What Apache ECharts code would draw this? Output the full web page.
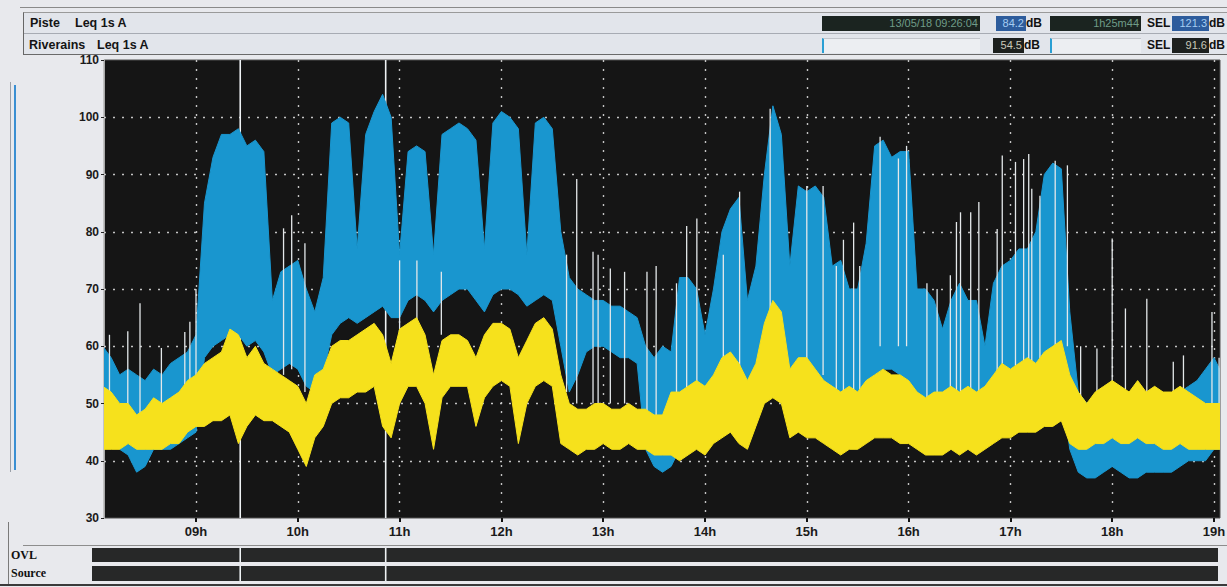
<!DOCTYPE html>
<html><head><meta charset="utf-8">
<script src="https://cdn.jsdelivr.net/npm/echarts/dist/echarts.min.js"></script>
<style>
html,body{margin:0;padding:0;width:1227px;height:587px;overflow:hidden;background:#e8e9ed;font-family:'Liberation Sans',Arial,sans-serif;}
#chart{position:absolute;left:0;top:0;width:1227px;height:587px;}
.abs{position:absolute;}
.lab{position:absolute;font-weight:bold;font-size:12.5px;color:#141414;line-height:15px;white-space:nowrap;}
.box{position:absolute;height:15px;line-height:15px;font-size:11px;text-align:right;padding-right:2px;box-sizing:border-box;white-space:nowrap;overflow:hidden;}
.dark{background:#1b2420;color:#6f9c88;}
.blue{background:#2d5c9c;color:#a6cdf2;}
.dark2{background:#1d201e;color:#c9c9b9;}
.light{background:#eceef2;border-left:2px solid #2a9fd4;border-top:1px solid #c3c6cc;}
.unit{position:absolute;font-weight:bold;font-size:12px;color:#111;line-height:15px;}
.foot{position:absolute;font-family:'Liberation Serif','Times New Roman',serif;font-weight:bold;font-size:12px;color:#111;line-height:15px;}
</style></head><body>
<div id="chart"></div>

<div class="abs" style="left:20px;top:7px;width:1207px;height:1px;background:#8a8a8a"></div>
<div class="abs" style="left:23px;top:12px;width:1204px;height:42px;background:#e2e5eb;border-left:1px solid #666;border-top:1px solid #9a9a9a"></div>
<div class="abs" style="left:24px;top:33px;width:1203px;height:1px;background:#a7abb3"></div>
<div class="abs" style="left:24px;top:54px;width:1203px;height:1px;background:#6a6a6a"></div>
<div class="lab" style="left:30px;top:16px">Piste</div>
<div class="lab" style="left:75px;top:16px">Leq 1s A</div>
<div class="lab" style="left:29px;top:38px">Riverains</div>
<div class="lab" style="left:97px;top:38px">Leq 1s A</div>

<div class="box dark" style="left:822px;top:16px;width:158px;">13/05/18 09:26:04</div>
<div class="box blue" style="left:996px;top:16px;width:30px;">84.2</div>
<div class="unit" style="left:1026px;top:16px">dB</div>
<div class="box dark" style="left:1050px;top:16px;width:91px;">1h25m44</div>
<div class="unit" style="left:1147px;top:16px">SEL</div>
<div class="box blue" style="left:1172px;top:16px;width:37px;">121.3</div>
<div class="unit" style="left:1209px;top:16px">dB</div>

<div class="box light" style="left:822px;top:38px;width:158px;"></div>
<div class="box dark2" style="left:993px;top:38px;width:31px;">54.5</div>
<div class="unit" style="left:1024px;top:38px">dB</div>
<div class="box light" style="left:1050px;top:38px;width:91px;"></div>
<div class="unit" style="left:1147px;top:38px">SEL</div>
<div class="box dark2" style="left:1172px;top:38px;width:37px;">91.6</div>
<div class="unit" style="left:1209px;top:38px">dB</div>

<div class="abs" style="left:10px;top:82px;width:1px;height:390px;background:#9aa0a8"></div>
<div class="abs" style="left:14px;top:85px;width:2px;height:385px;background:#3a8fd2"></div>

<div class="abs" style="left:23px;top:545px;width:1204px;height:1px;background:#8d8d8d"></div>
<div class="abs" style="left:8px;top:522px;width:1px;height:62px;background:#7a7a7a"></div>
<div class="foot" style="left:11px;top:548px">OVL</div>
<div class="foot" style="left:11px;top:566px">Source</div>
<div class="abs" style="left:0;top:584px;width:1227px;height:2px;background:#3a3a3a"></div>

<script>
// ---- data ----
const binStartHour = 8 + 5 / 60;   // first 5-minute bin at 08:05
const binMinutes = 5;

// Piste (blue) envelope, dB, one value per 5-minute bin 08:05 .. 19:05
const blueHigh = [
  60,58,55,56,55,54,56,55,57,58,59,62,
  85,93,97,97,98,95,96,94,68,73,74,75,
  70,66,72,99,100,99,77,97,101,104,100,76,
  94,95,94,76,97,98,99,98,96,77,99,101,
  100,98,76,99,100,98,80,72,70,69,68,68,
  67,67,66,65,60,58,60,59,72,72,70,62,
  70,80,84,86,68,74,90,102,97,74,88,87,
  88,86,74,75,70,70,78,95,96,93,94,94,
  70,70,68,63,68,71,68,68,60,71,74,75,
  77,77,80,90,92,91,66,52,50,50,50,51,
  50,50,49,50,50,51,50,52,53,54,56,58,55
];
const blueLow = [
  44,43,42,41,38,39,42,42,42,43,44,45,
  58,60,61,62,62,60,61,59,55,56,57,56,
  53,52,55,62,64,65,64,65,66,67,65,65,
  68,69,68,66,68,69,70,70,68,66,69,70,
  70,69,67,68,69,68,60,52,55,59,60,60,
  59,58,58,57,42,39,38,39,42,44,44,42,
  44,46,48,48,46,50,54,56,55,50,50,50,
  50,49,48,47,46,47,50,55,56,56,55,54,
  50,48,47,45,46,47,46,46,45,47,48,49,
  50,50,51,52,53,53,42,38,37,37,38,39,
  38,37,37,38,38,38,38,39,40,40,40,42,42
];
// Riverains (yellow) envelope
const yellowHigh = [
  53,52,50,50,48,49,51,50,51,52,54,55,
  57,58,59,63,62,58,60,57,56,55,54,53,
  50,55,56,60,61,61,62,63,64,62,57,63,
  64,65,62,55,61,62,62,61,58,62,64,64,
  63,58,61,64,65,63,55,50,49,49,50,50,
  49,49,50,49,49,48,48,52,52,53,54,53,
  55,58,59,57,54,57,64,68,66,56,58,58,
  56,54,53,52,53,52,54,55,56,55,55,54,
  52,51,52,52,53,52,53,52,53,55,57,56,
  57,58,57,59,60,61,55,52,50,52,53,54,
  53,52,54,52,53,52,52,53,52,51,50,50,50
];
const yellowLow = [
  42,42,42,43,42,42,42,42,43,43,45,46,
  46,47,47,48,43,46,48,47,47,46,45,42,
  39,44,46,50,51,51,52,52,53,46,44,50,
  53,53,50,42,51,53,53,53,46,51,53,54,
  53,43,50,53,54,53,43,42,41,42,42,43,
  42,42,43,42,42,41,41,41,40,41,42,41,
  43,44,45,43,42,46,50,51,50,44,45,44,
  44,43,42,41,42,42,43,44,44,44,43,43,
  42,41,41,41,42,41,42,41,42,43,44,44,
  45,45,45,46,46,47,43,42,42,43,43,44,
  43,43,44,43,43,42,42,43,42,42,42,42,42
];
// isolated light spikes: time (h), bottom dB, top dB
const spikeTimes = [8.15,8.33,8.45,8.66,8.89,8.94,9.0,9.86,9.94,10.07,11.0,11.17,11.41,
  12.64,12.74,12.9,12.95,13.07,13.21,13.43,13.52,13.72,13.82,13.92,14.18,14.34,14.64,
  15.0,15.16,15.29,15.36,15.46,15.52,15.72,15.9,15.98,16.18,16.28,16.41,16.47,16.51,16.61,16.69,
  16.87,16.92,17.05,17.13,17.18,17.21,17.29,17.44,17.56,17.69,17.85,18.0,18.13,18.34,18.6,18.7,18.98,19.05];
const spikeLow = [48,47,48,48,50,50,52,55,56,52,62,64,62,
  52,50,50,50,50,50,48,45,50,50,50,55,55,60,
  55,55,52,52,52,52,60,60,60,50,50,52,52,52,52,52,
  55,55,55,55,55,55,55,60,60,50,50,50,50,50,50,50,50,50];
const spikeHigh = [62,62.6,67.5,59.7,62.5,64.3,70,80.6,82.9,78,75,75,73,
  76,89.2,76.5,76,73.6,73,73,74,71,81,82.3,76,87,101.5,
  88,88,74,78.6,81.6,74,96.6,92.8,95,71,70,72.4,81.7,83.4,83.4,85.2,
  80.5,93.3,92.2,92.7,93.6,87.5,86.3,92.4,91.6,60,59.6,78.8,66.6,68.3,57.3,58.4,66,58];
// cursors 13/05/18 09:26:04 and +1h25m44
const cursorTimes = [9 + 26/60 + 4/3600, 10 + 51/60 + 48/3600];
const xTickHours = [9,10,11,12,13,14,15,16,17,18,19];
const xTickLabels = ['09h','10h','11h','12h','13h','14h','15h','16h','17h','18h','19h'];
const yTicks = [30,40,50,60,70,80,90,100,110];

// ---- layout ----
const PX_PER_HOUR = 101.8, X_09H = 196;
const hourAt = px => 9 + (px - X_09H) / PX_PER_HOUR;
const BLUE = '#1996cf', YELLOW = '#f6e11c', SPIKE = '#e4e8ea', CURSOR = '#eef2f4';
const LABEL_FONT = "'Liberation Sans Narrow','Liberation Sans',Arial,sans-serif";

const binTimes = blueHigh.map((_, i) => binStartHour + i * binMinutes / 60);

function bandSeries(name, lows, highs, color) {
  return {
    type: 'custom', name, xAxisIndex: 0, yAxisIndex: 0, clip: true, z: 3, silent: true,
    data: binTimes.map((t, i) => [t, lows[i], highs[i]]),
    encode: { x: 0, y: [1, 2] },
    renderItem(params, api) {
      if (params.dataIndex !== 0) return null;
      const pts = [];
      for (let i = 0; i < binTimes.length; i++) pts.push(api.coord([binTimes[i], highs[i]]));
      for (let i = binTimes.length - 1; i >= 0; i--) pts.push(api.coord([binTimes[i], lows[i]]));
      return { type: 'polygon', shape: { points: pts }, style: { fill: color, stroke: color, lineWidth: 1 } };
    }
  };
}
function cursorSeries(gi, y0, y1) {
  return {
    type: 'custom', xAxisIndex: gi, yAxisIndex: gi, clip: true, z: 1, silent: true,
    data: cursorTimes.map(t => [t]),
    encode: { x: 0 },
    renderItem(params, api) {
      const a = api.coord([api.value(0), y0]), b = api.coord([api.value(0), y1]);
      return { type: 'line', shape: { x1: a[0], y1: a[1], x2: b[0], y2: b[1] }, style: { stroke: CURSOR, lineWidth: 1.6 } };
    }
  };
}
const dotted = { type: [2, 7], color: '#c4c4c4', width: 1.4 };

const chart = echarts.init(document.getElementById('chart'), null, { renderer: 'svg' });
chart.setOption({
  animation: false,
  backgroundColor: 'transparent',
  grid: [
    { left: 104, right: 7, top: 60, bottom: 69, show: true, backgroundColor: '#151515', borderColor: '#505050', borderWidth: 1, containLabel: false, outerBoundsMode: 'none' },
    { left: 92, right: 9, top: 548, height: 14, show: true, backgroundColor: '#272828', borderWidth: 0, containLabel: false, outerBoundsMode: 'none' },
    { left: 92, right: 9, top: 566, height: 15, show: true, backgroundColor: '#272828', borderWidth: 0, containLabel: false, outerBoundsMode: 'none' }
  ],
  xAxis: [
    { type: 'value', gridIndex: 0, min: hourAt(104), max: hourAt(1220),
      axisLine: { show: false },
      axisTick: { show: true, customValues: xTickHours, length: 4, lineStyle: { color: '#111', width: 2 } },
      axisLabel: { customValues: xTickHours, formatter: v => xTickLabels[xTickHours.indexOf(Math.round(v))] || '',
        color: '#1a1a1a', fontSize: 13, fontWeight: 'bold', fontFamily: LABEL_FONT, margin: 7 },
      splitLine: { show: true, lineStyle: dotted } },
    { type: 'value', gridIndex: 1, min: hourAt(92), max: hourAt(1218), show: false },
    { type: 'value', gridIndex: 2, min: hourAt(92), max: hourAt(1218), show: false }
  ],
  yAxis: [
    { type: 'value', gridIndex: 0, min: yTicks[0], max: yTicks[yTicks.length - 1], interval: 10,
      axisLine: { show: true, lineStyle: { color: '#d0d0d0', width: 1.5 } },
      axisTick: { show: true, length: 3, lineStyle: { color: '#222' } },
      axisLabel: { color: '#1a1a1a', fontSize: 12, fontWeight: 'bold', fontFamily: "'Liberation Sans',Arial,sans-serif", margin: 5 },
      splitLine: { show: true, showMinLine: false, showMaxLine: false, lineStyle: dotted } },
    { type: 'value', gridIndex: 1, min: 0, max: 1, show: false },
    { type: 'value', gridIndex: 2, min: 0, max: 1, show: false }
  ],
  series: [
    cursorSeries(0, 30, 110),
    cursorSeries(1, 0, 1),
    cursorSeries(2, 0, 1),
    bandSeries('Piste', blueLow, blueHigh, BLUE),
    {
      type: 'custom', name: 'spikes', xAxisIndex: 0, yAxisIndex: 0, clip: true, z: 3, silent: true,
      data: spikeTimes.map((t, i) => [t, spikeLow[i], spikeHigh[i]]),
      encode: { x: 0, y: [1, 2] },
      renderItem(params, api) {
        const a = api.coord([api.value(0), api.value(1)]), b = api.coord([api.value(0), api.value(2)]);
        return { type: 'line', shape: { x1: a[0], y1: a[1], x2: b[0], y2: b[1] }, style: { stroke: SPIKE, lineWidth: 1.3 } };
      }
    },
    bandSeries('Riverains', yellowLow, yellowHigh, YELLOW)
  ]
});
</script>
</body></html>
